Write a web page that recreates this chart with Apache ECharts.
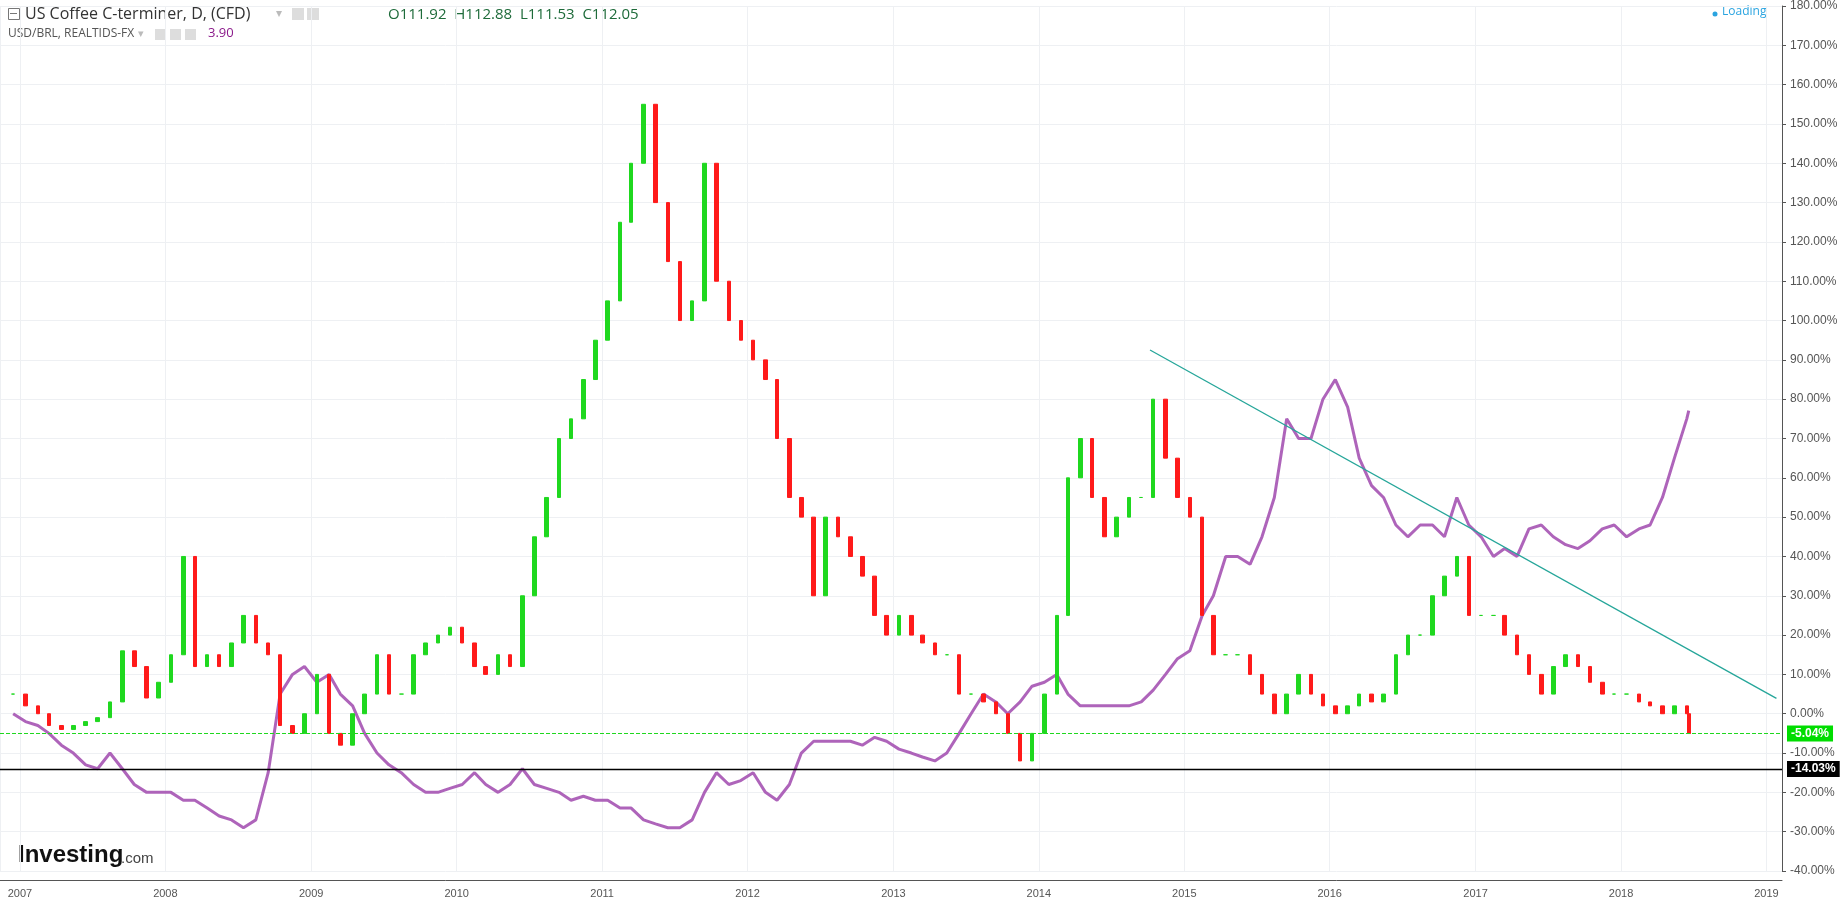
<!DOCTYPE html>
<html><head><meta charset="utf-8">
<script src="https://cdn.jsdelivr.net/npm/echarts@6/dist/echarts.min.js"></script>
<style>html,body{margin:0;padding:0;background:#fff}#c{width:1843px;height:899px}</style>
</head><body><div id="c"></div>
<script>
// Monthly closes (percent change) from 2006-12 through 2018-06, plus final point 2018-06-20
const startYear = 2006, startMonth = 11;
const coffeeClose = [5,
 2,0,-3,-4,-3,-2,-1,3,16,12,4,8,
 15,40,12,15,12,18,25,18,15,-3,-5,0,
 10,-5,-8,0,5,15,5,5,15,18,20,22,
 18,12,10,15,12,30,45,55,70,75,85,95,
 105,125,140,155,130,115,100,105,140,110,100,95,
 90,85,70,55,50,30,50,45,40,35,25,20,
 25,20,18,15,15,5,5,3,0,-5,-12,-5,
 5,25,60,70,55,45,50,55,55,80,65,55,
 50,25,15,15,15,10,5,0,5,10,5,2,
 0,2,5,3,5,15,20,20,30,35,40,25,
 25,25,20,15,10,5,12,15,12,8,5,5,
 5,3,2,0,2,0,-5.04];
const brlClose = [0,
 -2,-3,-5,-8,-10,-13,-14,-10,-14,-18,-20,-20,
 -20,-22,-22,-24,-26,-27,-29,-27,-15,5,10,12,
 8,10,5,2,-5,-10,-13,-15,-18,-20,-20,-19,
 -18,-15,-18,-20,-18,-14,-18,-19,-20,-22,-21,-22,
 -22,-24,-24,-27,-28,-29,-29,-27,-20,-15,-18,-17,
 -15,-20,-22,-18,-10,-7,-7,-7,-7,-8,-6,-7,
 -9,-10,-11,-12,-10,-5,0,5,3,0,3,7,
 8,10,5,2,2,2,2,2,3,6,10,14,
 16,25,30,40,40,38,45,55,75,70,70,80,
 85,78,65,58,55,48,45,48,48,45,55,48,
 45,40,42,40,47,48,45,43,42,44,47,48,
 45,47,48,55,65,75,77.11];
const trendStart = ['2014-10-07', 92.5];
const trendEnd = ['2019-01-26', 3.9];
const lastCoffee = -5.04, lastBrl = 77.11, supportLevel = -14.03;

const dates = [];
for (let i = 0; i < coffeeClose.length; i++) {
  if (i === coffeeClose.length - 1) { dates.push('2018-06-20'); break; }
  const m = startMonth + i; const y = startYear + Math.floor(m / 12); const mm = (m % 12) + 1;
  dates.push(y + '-' + String(mm).padStart(2, '0') + '-15');
}
const candles = coffeeClose.map((c, i) => {
  const o = i === 0 ? c : coffeeClose[i - 1];
  return [dates[i], o, c, Math.min(o, c), Math.max(o, c)];
});
const brl = brlClose.map((v, i) => [dates[i], v]);

const chart = echarts.init(document.getElementById('c'));
chart.setOption({
  animation: false,
  backgroundColor: '#fff',
  grid: { left: 0, right: 61, top: 5, bottom: 25 },
  xAxis: {
    type: 'time', min: '2006-11-12', max: '2019-02-09', splitNumber: 12,
    offset: 9,
    axisLine: { onZero: false, lineStyle: { color: '#555' } }, axisTick: { show: false },
    axisLabel: { formatter: '{yyyy}', color: '#555', fontSize: 11, fontFamily: 'Arial' },
    splitLine: { show: true, lineStyle: { color: '#eef0f3' } }
  },
  yAxis: {
    type: 'value', position: 'right', min: -40, max: 180, interval: 10,
    axisLine: { show: true, lineStyle: { color: '#555' } },
    axisTick: { show: true, length: 4, lineStyle: { color: '#555' } },
    axisLabel: { formatter: v => v.toFixed(2) + '%', color: '#555', fontSize: 12, fontFamily: 'Arial' },
    splitLine: { lineStyle: { color: '#eef0f3' } }
  },
  series: [
    {
      type: 'line', data: brl, symbol: 'none', smooth: false,
      lineStyle: { color: '#a553b3', width: 3, opacity: 0.9 }, z: 2,
      markLine: {
        symbol: 'none', silent: true,
        data: [{ yAxis: lastBrl, lineStyle: { opacity: 0 },
          label: { position: 'end', formatter: lastBrl.toFixed(2) + '%', color: '#fff', backgroundColor: '#800080', padding: [2, 4], fontSize: 12, fontWeight: 'bold' } }]
      }
    },
    {
      type: 'candlestick', data: candles,
      encode: { x: 0, y: [1, 2, 3, 4] }, z: 3,
      barWidth: 4,
      itemStyle: { color: '#1fd81f', color0: '#ff1a1a', borderColor: '#1fd81f', borderColor0: '#ff1a1a', borderWidth: 1 }
    },
    {
      type: 'line', data: [trendStart, trendEnd], symbol: 'none',
      lineStyle: { color: '#26a69a', width: 1.3 }, z: 4,
      markLine: {
        symbol: 'none', silent: true,
        data: [
          { yAxis: lastCoffee, lineStyle: { color: '#1fd81f', type: 'dashed', width: 1 },
            label: { position: 'end', formatter: lastCoffee.toFixed(2) + '%', color: '#fff', backgroundColor: '#00dd00', padding: [2, 4], fontSize: 12, fontWeight: 'bold' } },
          { yAxis: supportLevel, lineStyle: { color: '#000', type: 'solid', width: 1.3 },
            label: { position: 'end', formatter: supportLevel.toFixed(2) + '%', color: '#fff', backgroundColor: '#000', padding: [2, 4], fontSize: 12, fontWeight: 'bold' } }
        ]
      }
    }
  ],
  graphic: [
    { type: 'rect', left: 8, top: 8, shape: { width: 11, height: 11 }, style: { fill: '#fff', stroke: '#777' } },
    { type: 'rect', left: 10, top: 13, shape: { width: 7, height: 1 }, style: { fill: '#777' } },
    { type: 'text', left: 25, top: 6, style: { text: 'US Coffee C-terminer, D, (CFD)', font: '16px "Open Sans", Arial', fill: '#333' } },
    { type: 'text', left: 276, top: 8, style: { text: '▾', font: '12px Arial', fill: '#bbb' } },
    { type: 'rect', left: 292, top: 8, shape: { width: 12, height: 12 }, style: { fill: '#ddd' } },
    { type: 'rect', left: 307, top: 8, shape: { width: 12, height: 12 }, style: { fill: '#ddd' } },
    { type: 'text', left: 388, top: 7, style: { text: 'O111.92  H112.88  L111.53  C112.05', font: '15px "Open Sans", Arial', fill: '#1e6b3a' } },
    { type: 'text', left: 8, top: 28, style: { text: 'USD/BRL, REALTIDS-FX', font: '12px "Open Sans", Arial', fill: '#555' } },
    { type: 'text', left: 138, top: 28, style: { text: '▾', font: '11px Arial', fill: '#bbb' } },
    { type: 'rect', left: 155, top: 29, shape: { width: 11, height: 11 }, style: { fill: '#ddd' } },
    { type: 'rect', left: 170, top: 29, shape: { width: 11, height: 11 }, style: { fill: '#ddd' } },
    { type: 'rect', left: 185, top: 29, shape: { width: 11, height: 11 }, style: { fill: '#ddd' } },
    { type: 'text', left: 208, top: 27, style: { text: '3.90', font: '13px "Open Sans", Arial', fill: '#8b1a8b' } },
    { type: 'circle', shape: { cx: 1715, cy: 14, r: 2.5 }, style: { fill: '#2aa4e0' } },
    { type: 'text', left: 1722, top: 6, style: { text: 'Loading', font: '12px "Open Sans", Arial', fill: '#2aa4e0' } },
    { type: 'text', left: 18, top: 843, style: { text: 'Investing', font: 'bold 24px Arial', fill: '#111' } },
    { type: 'text', left: 121, top: 851, style: { text: '.com', font: '15px Arial', fill: '#444' } }
  ]
});
</script></body></html>
